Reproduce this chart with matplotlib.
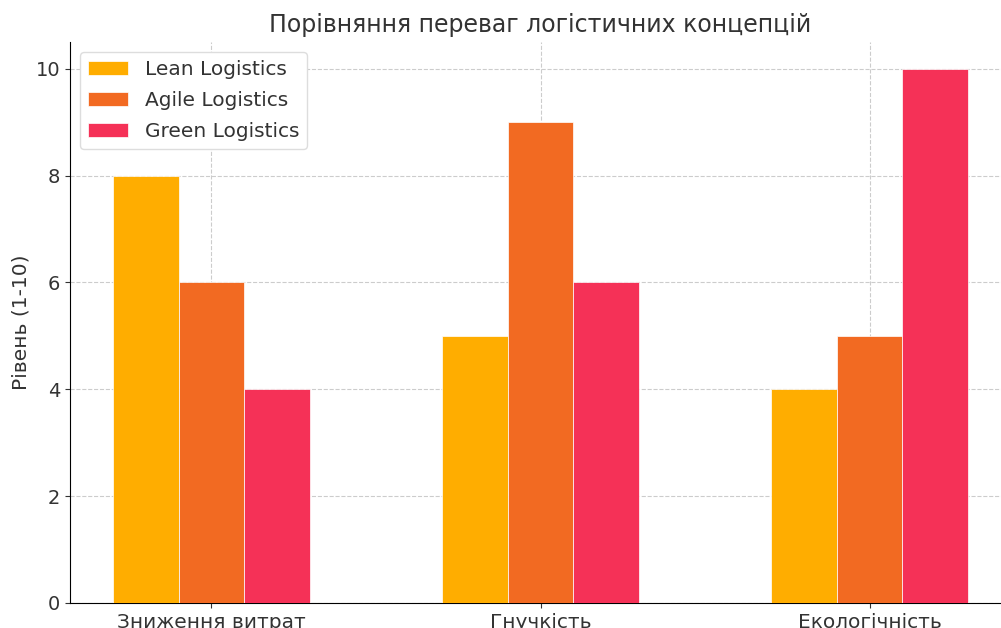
import numpy as np
import matplotlib; matplotlib.use('Agg')
import matplotlib.pyplot as plt

CATEGORIES = ['Зниження витрат', 'Гнучкість', 'Екологічність']
SERIES = ['Lean Logistics', 'Agile Logistics', 'Green Logistics']
LEAN = [8, 5, 4]
AGILE = [6, 9, 5]
GREEN = [4, 6, 10]
COLORS = ['#FFAD00', '#F26A22', '#F53157']

plt.rcParams['font.family'] = 'DejaVu Sans'
plt.rcParams['text.color'] = '#333333'
plt.rcParams['axes.labelcolor'] = '#333333'
plt.rcParams['xtick.color'] = '#333333'
plt.rcParams['ytick.color'] = '#333333'

fig = plt.figure(figsize=(10.01, 6.28), dpi=100)
ax = fig.add_axes([70/1001, 25/628, 941/1001, 561/628])

x = np.arange(len(CATEGORIES)); w = 0.2
for i, (vals, name) in enumerate(zip([LEAN, AGILE, GREEN], SERIES)):
    ax.bar(x + (i - 1) * w, vals, w, label=name, color=COLORS[i], edgecolor='white', linewidth=0.5, zorder=3)

ax.set_xticks(x); ax.set_xticklabels(CATEGORIES, fontsize=14.5)
ax.tick_params(axis='y', labelsize=14)
ax.set_ylabel('Рівень (1-10)', fontsize=14.5)
ax.set_title('Порівняння переваг логістичних концепцій', fontsize=17, pad=7)
ax.grid(True, ls='--', color='#cccccc', lw=0.8, zorder=0)
ax.spines['top'].set_visible(False); ax.spines['right'].set_visible(False)
ax.legend(loc='upper left', fontsize=14.5, framealpha=1, edgecolor='#dddddd', labelspacing=0.6)

fig.savefig('out.png', dpi=100)
